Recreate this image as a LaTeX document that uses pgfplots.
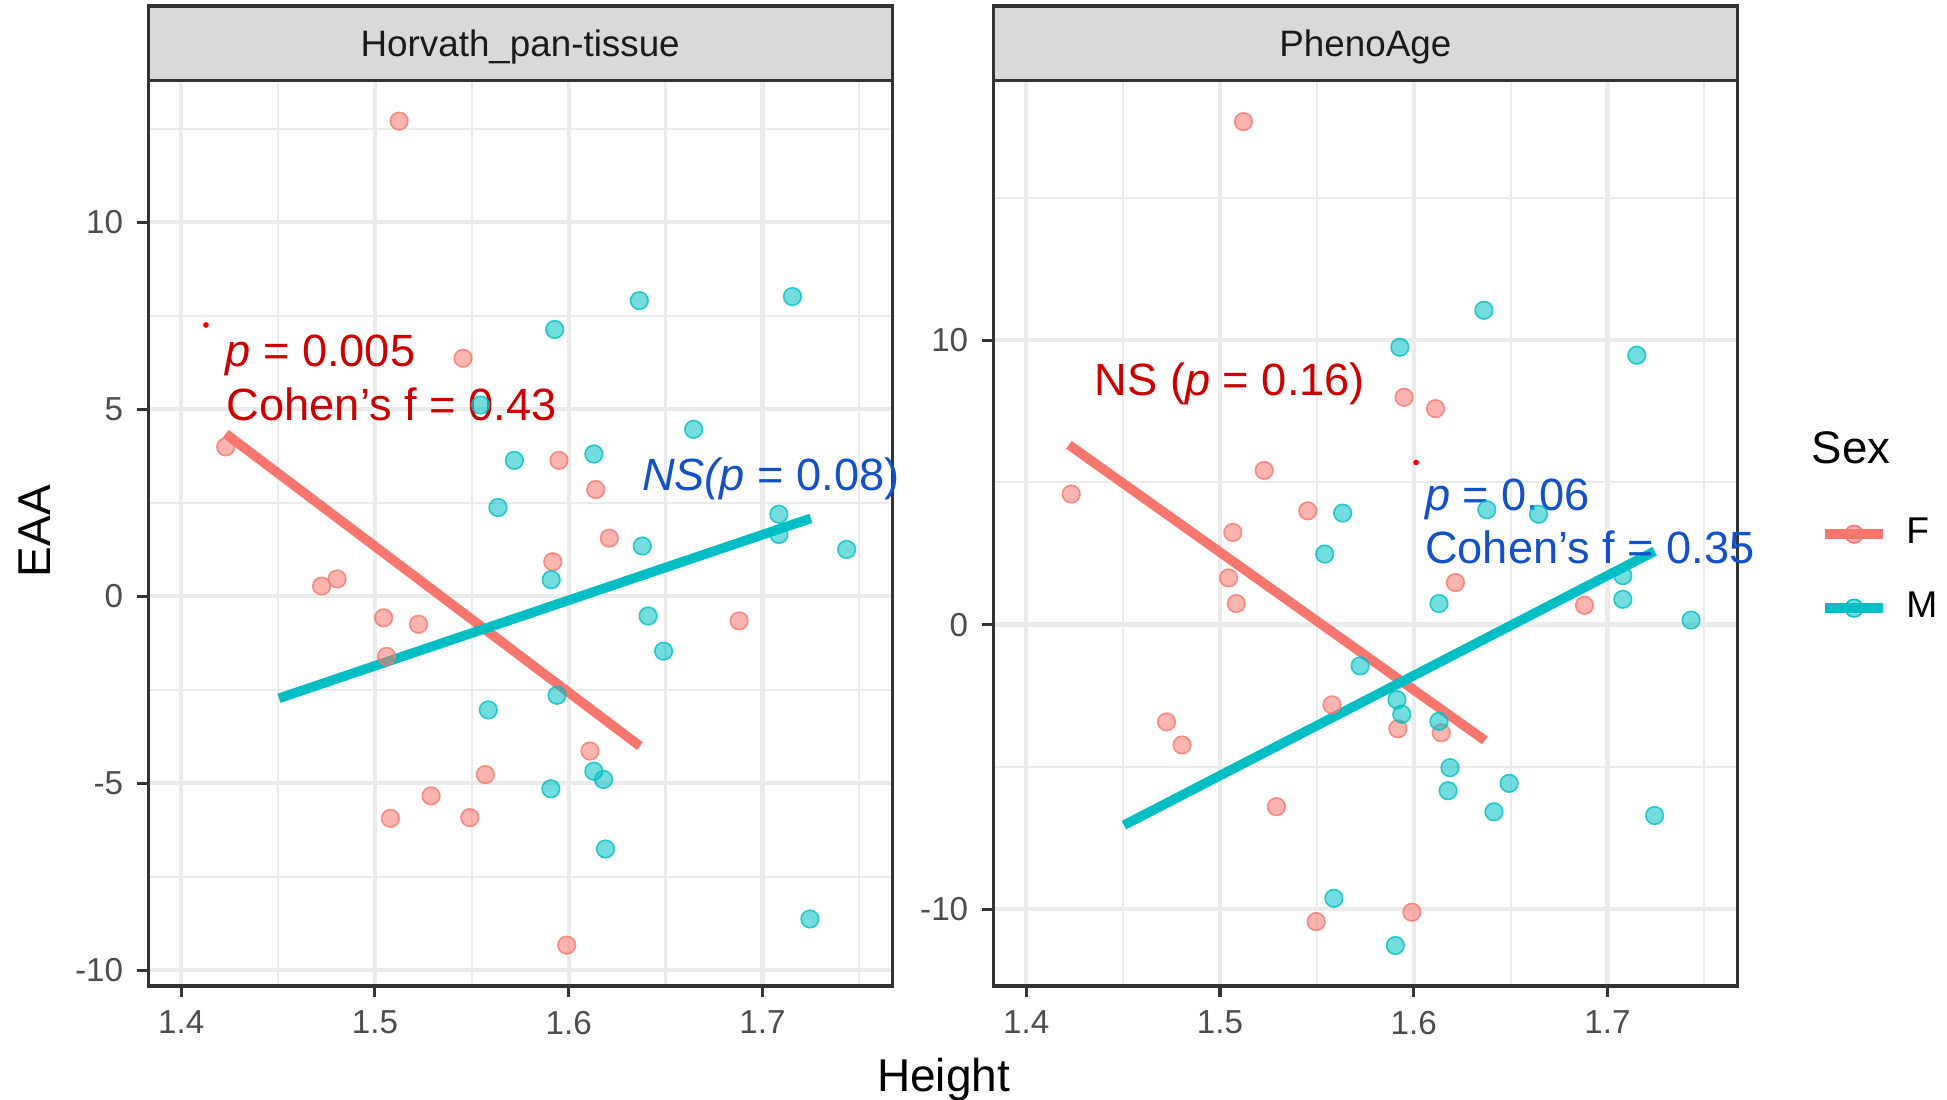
\documentclass[border=0pt]{standalone}
\usepackage{pgfplots}
\pgfplotsset{compat=1.18}
\usepackage{fontspec}
\setmainfont{Liberation Sans}
\definecolor{cF}{RGB}{248,118,109}
\definecolor{cM}{RGB}{0,191,196}
\definecolor{gridc}{RGB}{235,235,235}
\definecolor{g20}{RGB}{51,51,51}
\definecolor{g30}{RGB}{77,77,77}
\definecolor{g10}{RGB}{26,26,26}
\definecolor{stripc}{RGB}{217,217,217}
\definecolor{annR}{RGB}{204,0,0}
\definecolor{annB}{RGB}{20,80,200}

\tikzset{ann/.style={anchor=base west, inner sep=0pt, font=\fontsize{11.3}{13}\selectfont}}
\pgfplotsset{
  facet/.style={
    scale only axis, width=186.0pt, height=226.3pt,
    anchor=north west,
    xmin=1.383, xmax=1.767,
    xtick={1.4,1.5,1.6,1.7}, xticklabels={1.4,1.5,1.6,1.7},
    minor xtick={1.45,1.55,1.65,1.75},
    grid=both,
    major grid style={gridc, line width=1.07pt},
    minor grid style={gridc, line width=0.53pt},
    axis line style={g20, line width=0.8pt},
    tick style={g20, line width=0.8pt},
    major tick length=2.75pt, minor tick length=0pt,
    tick align=outside, xtick pos=bottom, ytick pos=left,
    ticklabel style={font=\fontsize{8.3}{10}\selectfont, text=g30},
    /pgf/number format/assume math mode=true,
    clip=false,
  },
  pts/.style={only marks, mark=*, mark size=2.2pt, forget plot,
    mark options={fill=#1, fill opacity=0.55, draw=#1, draw opacity=0.8, line width=0.4pt}},
  fit/.style={#1, line width=2.4pt, forget plot},
}

\begin{document}
\begin{tikzpicture}
\path[use as bounding box] (0,0) rectangle (486.75pt,-275pt);

% left facet
\begin{axis}[facet, name=L, at={(37.05pt,-20.18pt)},
  ymin=-10.42, ymax=13.78,
  ytick={-10,-5,0,5,10}, yticklabels={-10,-5,0,5,10},
  minor ytick={-7.5,-2.5,2.5,7.5,12.5}]
\addplot[pts=cF] coordinates {(1.5125,12.70) (1.5455,6.36) (1.423,3.99) (1.595,3.63) (1.614,2.85) (1.621,1.55) (1.5918,0.92) (1.4725,0.27) (1.4805,0.46) (1.5045,-0.58) (1.5225,-0.75) (1.506,-1.61) (1.688,-0.66) (1.611,-4.14) (1.557,-4.77) (1.529,-5.34) (1.508,-5.94) (1.549,-5.92) (1.599,-9.33)};
\addplot[pts=cM] coordinates {(1.6365,7.90) (1.7155,8.01) (1.5928,7.13) (1.5545,5.11) (1.6645,4.46) (1.572,3.63) (1.613,3.80) (1.5635,2.37) (1.7085,2.19) (1.7085,1.65) (1.638,1.34) (1.7435,1.25) (1.591,0.44) (1.641,-0.53) (1.649,-1.47) (1.594,-2.65) (1.5585,-3.04) (1.613,-4.68) (1.618,-4.90) (1.5908,-5.15) (1.619,-6.76) (1.7245,-8.63)};
\addplot[fit=cF] coordinates {(1.423,4.34) (1.6368,-4.01)};
\addplot[fit=cM] coordinates {(1.4505,-2.73) (1.725,2.08)};
\addplot[only marks, mark=*, mark size=0.5pt, color=red, forget plot] coordinates {(1.4128,7.25)};
\node[ann, text=annR] at (axis cs:1.4225,6.14) {\textit{p} = 0.005};
\node[ann, text=annR] at (axis cs:1.4232,4.69) {Cohen’s f = 0.43};
\node[ann, text=annB] at (axis cs:1.6375,2.82) {\textit{NS(p} = 0.08)};
\end{axis}

% right facet
\begin{axis}[facet, name=R, at={(248.33pt,-20.18pt)},
  ymin=-12.70, ymax=19.12,
  ytick={-10,0,10}, yticklabels={-10,0,10},
  minor ytick={-5,5,15},
  legend style={draw=none, fill=none, at={(1.1101,0.5174)}, anchor=north west,
    inner sep=0pt, font=\fontsize{9.3}{11}\selectfont, row sep=10.6pt,
    nodes={inner sep=0pt},
    /tikz/every odd column/.append style={column sep=4.6pt}},
  legend cell align=left,
  legend image code/.code={\draw[#1] (0pt,0pt) -- (14.6pt,0pt);
    \draw[#1, line width=0.4pt, fill, fill opacity=0.55] (7.3pt,0pt) circle (2.2pt);}]
\addplot[pts=cF] coordinates {(1.5121,17.68) (1.595,7.99) (1.6112,7.59) (1.5228,5.42) (1.4232,4.59) (1.5453,4.0) (1.5066,3.24) (1.5044,1.64) (1.5084,0.74) (1.6215,1.48) (1.6881,0.68) (1.5578,-2.82) (1.4724,-3.42) (1.4804,-4.23) (1.5918,-3.66) (1.6142,-3.80) (1.5291,-6.40) (1.599,-10.11) (1.5496,-10.44)};
\addplot[pts=cM] coordinates {(1.6362,11.05) (1.5928,9.75) (1.7151,9.47) (1.5633,3.92) (1.6377,4.04) (1.6644,3.88) (1.554,2.48) (1.7079,1.72) (1.7079,0.89) (1.613,0.74) (1.7431,0.16) (1.5723,-1.45) (1.5913,-2.64) (1.5938,-3.15) (1.613,-3.40) (1.6187,-5.03) (1.6492,-5.58) (1.6177,-5.84) (1.6414,-6.58) (1.7243,-6.71) (1.5588,-9.62) (1.5905,-11.28)};
\addplot[fit=cF] coordinates {(1.422,6.32) (1.6367,-4.07)};
\addplot[fit=cM] coordinates {(1.4504,-7.05) (1.7243,2.58)};
\addplot[only marks, mark=*, mark size=0.5pt, color=red, forget plot] coordinates {(1.6012,5.70)};
\node[ann, text=annR] at (axis cs:1.435,8.05) {NS (\textit{p} = 0.16)};
\node[ann, text=annB] at (axis cs:1.6055,4.01) {\textit{p} = 0.06};
\node[ann, text=annB] at (axis cs:1.6055,2.15) {Cohen’s f = 0.35};
\addlegendimage{cF, line width=2.4pt}
\addlegendentry{F}
\addlegendimage{cM, line width=2.4pt}
\addlegendentry{M}
\end{axis}

% facet strips
\draw[fill=stripc, draw=g20, line width=0.8pt] (L.north west) rectangle ([yshift=18.68pt]L.north east);
\node[font=\fontsize{9.2}{11}\selectfont, text=g10] at ([yshift=8.5pt]L.north) {Horvath\_pan-tissue};
\draw[fill=stripc, draw=g20, line width=0.8pt] (R.north west) rectangle ([yshift=18.68pt]R.north east);
\node[font=\fontsize{9.2}{11}\selectfont, text=g10] at ([yshift=8.5pt]R.north) {PhenoAge};

% axis titles and legend title
\node[rotate=90, font=\fontsize{11.5}{13}\selectfont] at (8.7pt,-132.8pt) {EAA};
\node[anchor=base, font=\fontsize{11.5}{13}\selectfont] at (235.9pt,-272.8pt) {Height};
\node[anchor=base west, inner sep=0pt, font=\fontsize{11.4}{13}\selectfont] at (452.7pt,-115.8pt) {Sex};
\end{tikzpicture}
\end{document}
